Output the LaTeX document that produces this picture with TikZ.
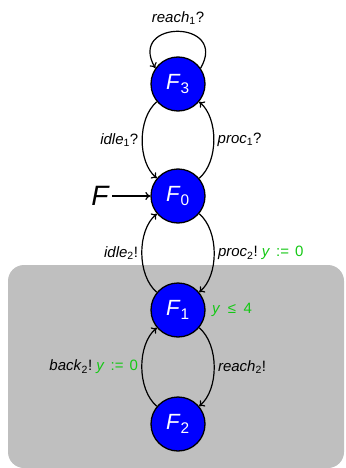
\documentclass[tikz,border=0pt]{standalone}
\usepackage{fontspec}
\setmainfont{Liberation Sans}
\usetikzlibrary{arrows.meta}
\definecolor{guardgreen}{RGB}{20,200,20}
\newcommand{\act}[2]{\textit{#1}\textsubscript{#2}}
\newcommand{\upd}[1]{\textcolor{guardgreen}{#1}}
\newcommand{\st}[1]{\textit{F}\textsubscript{#1}}
\newcommand{\reset}{\textit{y}\hspace{0.4em}:=\hspace{0.4em}0}
\frenchspacing

\begin{document}
\begin{tikzpicture}[x=1pt, y=-1pt,
    state/.style={circle, draw, line width=1.3pt, fill=blue, text=white, minimum size=54pt, inner sep=0pt, font=\fontsize{22}{24}\selectfont},
    lbl/.style={font=\fontsize{15}{17}\selectfont},
    trans/.style={line width=1.2pt, -{To[length=5pt,width=8pt]}}]
  \useasboundingbox (0,0) rectangle (345,468);
  % shaded part of the automaton
  \fill[black!25, rounded corners=16pt] (8,265) rectangle (344,468);
  \node[state] (F3) at (178,84) {\st{3}};
  \node[state] (F0) at (178,196) {\st{0}};
  \node[state] (F1) at (178,310) {\st{1}};
  \node[state] (F2) at (178,424) {\st{2}};
  \node[font=\fontsize{28}{30}\selectfont\itshape] (init) at (100,196) {F};
  \draw[trans] (init) -- (F0);
  \draw[trans] (F3.35) to[out=60, in=120, looseness=3.2] node[above=3pt, lbl] {\act{reach}{1}?} (F3.145);
  \draw[trans] (F3) to[out=220, in=140, looseness=0.85] node[left, lbl] {\act{idle}{1}?} (F0);
  \draw[trans] (F0) to[out=40, in=-40, looseness=0.85] node[right, lbl] {\act{proc}{1}?} (F3);
  \draw[trans] (F1) to[out=140, in=220, looseness=0.85] node[left, lbl] {\act{idle}{2}!} (F0);
  \draw[trans] (F0) to[out=-40, in=40, looseness=0.85] node[right, lbl] {\act{proc}{2}! \upd{\reset}} (F1);
  \draw[trans] (F2) to[out=140, in=220, looseness=0.85] node[left, lbl] {\act{back}{2}! \upd{\reset}} (F1);
  \draw[trans] (F1) to[out=-40, in=40, looseness=0.85] node[right, lbl] {\act{reach}{2}!} (F2);
  \node[lbl, right=3pt, text=guardgreen] (inv) at (F1.east) {\textit{y}\hspace{0.5em}≤\hspace{0.5em}4};
\end{tikzpicture}
\end{document}
